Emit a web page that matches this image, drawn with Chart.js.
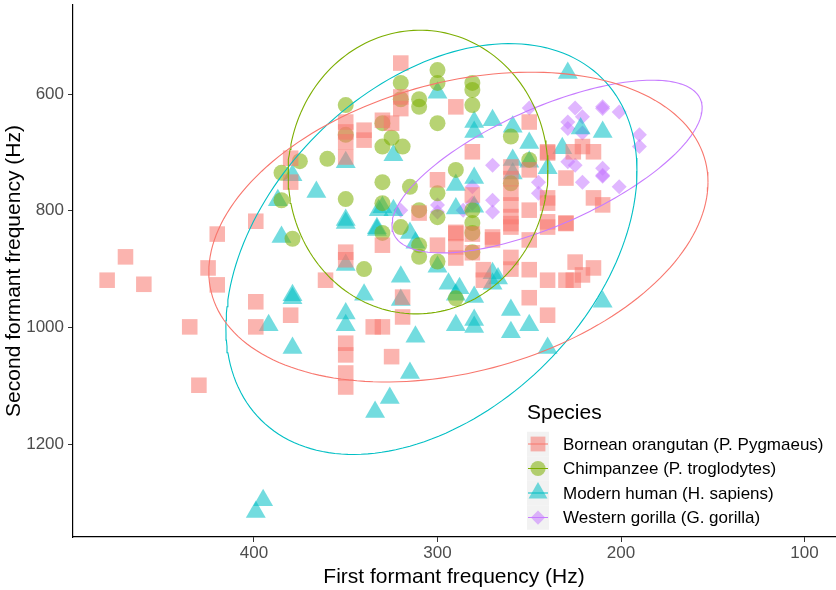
<!DOCTYPE html>
<html>
<head>
<meta charset="utf-8">
<script src="https://cdn.jsdelivr.net/npm/chart.js@4.4.1/dist/chart.umd.min.js"></script>
<style>
html, body { margin: 0; padding: 0; background: #fff; }
</style>
</head>
<body>
<canvas id="myChart" width="836" height="590"></canvas>
<script>
// formant data, [F1, F2] in Hz
var orangutan = [
    [480, 919], [470, 879], [460, 926], [435, 999], [430, 1099], [425, 898], [420, 840], [420, 927],
    [399, 818], [399, 956], [399, 999], [380, 979], [361, 919], [380, 710], [380, 751],
    [350, 648], [350, 665], [350, 682], [350, 708], [350, 871], [350, 884], [350, 1027], [350, 1047], [350, 1078], [350, 1102],
    [340, 662], [340, 679], [330, 645], [325, 650], [320, 547], [320, 605], [320, 625], [290, 622], [250, 648],
    [281, 699], [300, 747], [281, 773], [281, 840],
    [260, 725], [260, 745], [260, 770], [260, 790], [260, 810], [260, 828], [250, 730], [250, 799], [240, 701], [240, 787], [240, 828],
    [310, 804], [290, 837], [270, 845], [226, 699], [221, 690], [215, 699], [240, 699], [230, 744], [230, 821], [240, 778], [215, 778], [210, 790],
    [225, 888], [215, 898], [221, 910], [240, 919], [230, 919], [226, 919], [240, 979], [240, 819], [230, 822],
    [330, 859], [319, 948], [319, 982], [335, 999], [330, 999], [325, 1050], [300, 859], [290, 839], [290, 862], [290, 881],
    [281, 872], [270, 850], [275, 901], [275, 919], [260, 822], [260, 880], [260, 900], [250, 850], [250, 901], [250, 949]
];
var chimpanzee = [
    [375, 715], [360, 711], [385, 735], [385, 782], [379, 848],
    [300, 559], [300, 581], [320, 581], [320, 609], [310, 609], [310, 622], [281, 581], [281, 593], [281, 619], [300, 650],
    [350, 619], [350, 670], [330, 650], [325, 675], [330, 690], [319, 690],
    [260, 673], [250, 713], [290, 730], [260, 753], [330, 751], [315, 759], [350, 780], [330, 787], [300, 770], [310, 799], [300, 811],
    [281, 799], [281, 821], [320, 828], [330, 838], [310, 859], [310, 879], [300, 887], [340, 900], [281, 838], [281, 871], [290, 950]
];
var human = [
    [379, 739], [387, 782], [366, 768], [385, 845], [379, 945], [379, 950], [392, 996], [379, 1035],
    [300, 598], [350, 717], [324, 705], [350, 816], [332, 799], [330, 794], [324, 799], [333, 833], [315, 838], [290, 756], [290, 796],
    [280, 648], [270, 645], [280, 665], [259, 656], [250, 684], [259, 713], [259, 736], [250, 716], [240, 727], [280, 744], [280, 793],
    [229, 564], [222, 659], [210, 665], [232, 693],
    [350, 821], [333, 830], [312, 855], [350, 893], [300, 896], [320, 913], [340, 944], [320, 953], [294, 925], [288, 933], [290, 944], [280, 948],
    [270, 907], [267, 916], [270, 925], [350, 976], [350, 996], [290, 996], [280, 987], [280, 999], [260, 970], [260, 1008], [250, 996],
    [312, 1016], [315, 1078], [326, 1121], [334, 1145], [240, 1035], [210, 956], [395, 1296], [399, 1316]
];
var gorilla = [
    [250, 624], [270, 722], [245, 751], [245, 770], [281, 759], [270, 782], [281, 787], [270, 802], [286, 799], [300, 790], [300, 802], [320, 799],
    [225, 624], [210, 622], [210, 625], [201, 631], [221, 639], [229, 648], [229, 659], [221, 667], [190, 670], [190, 690],
    [229, 716], [225, 722], [210, 727], [210, 739], [210, 741], [221, 751], [201, 759]
];

// 95% ellipses: centre x, centre y, then two conjugate half-diameters (x, y)
var orangutanEllipse = [288.6, 828, -136, -77, 0, 254];
var chimpanzeeEllipse = [310.6, 733.7, -70.8, -3.4, 0, 243];
var humanEllipse = [303.3, 865.6, -112, -133.7, 0, 325.6];
var gorillaEllipse = [240.3, 724.3, -84.5, -100.3, 0, 108.8];

var species = ['Bornean orangutan (P. Pygmaeus)', 'Chimpanzee (P. troglodytes)', 'Modern human (H. sapiens)', 'Western gorilla (G. gorilla)'];
var xTicks = [100, 200, 300, 400];
var yTicks = [600, 800, 1000, 1200];

var lineColors = ['#F8766D', '#7CAE00', '#00BFC4', '#C77CFF'];
var fillColors = ['rgba(248,118,109,0.55)', 'rgba(124,174,0,0.55)', 'rgba(0,191,196,0.55)', 'rgba(199,124,255,0.55)'];
var shapes = ['rect', 'circle', 'triangle', 'rectRot'];
var sizes = [11, 8, 11.5, 7.5];

Chart.defaults.font.family = '"Liberation Sans", Arial, sans-serif';

var ctx = document.getElementById('myChart').getContext('2d');

function toPoints(list) {
    return list.map(function (p) { return { x: p[0], y: p[1] }; });
}

function ellipsePath(e) {
    let pts = [];
    for (let i = 0; i <= 180; i++) {
        let t = i / 180 * 2 * Math.PI;
        pts.push({
            x: e[0] + e[2] * Math.cos(t) + e[4] * Math.sin(t),
            y: e[1] + e[3] * Math.cos(t) + e[5] * Math.sin(t)
        });
    }
    return pts;
}

// no extra room for end labels, the plot panel fills the canvas
function noPadding(scale) {
    scale.paddingLeft = 0;
    scale.paddingRight = 0;
    scale.paddingTop = 0;
    scale.paddingBottom = 0;
}

var groups = [orangutan, chimpanzee, human, gorilla];
var ellipses = [orangutanEllipse, chimpanzeeEllipse, humanEllipse, gorillaEllipse];

var datasets = [];
// ellipses first so they sit on top of the points
ellipses.forEach(function (e, i) {
    datasets.push({
        label: species[i] + ' ellipse',
        data: ellipsePath(e),
        showLine: true,
        borderColor: lineColors[i],
        borderWidth: 1.1,
        pointRadius: 0,
        fill: false,
        tension: 0
    });
});
groups.forEach(function (g, i) {
    datasets.push({
        label: species[i],
        data: toPoints(g),
        pointStyle: shapes[i],
        pointRadius: sizes[i],
        pointHoverRadius: sizes[i],
        backgroundColor: fillColors[i],
        borderWidth: 0,
        showLine: false
    });
});

var speciesLegend = {
    id: 'speciesLegend',
    afterDraw: function (chart) {
        let c = chart.ctx;
        c.save();
        c.textBaseline = 'middle';
        c.textAlign = 'left';
        c.fillStyle = '#000';
        c.font = '21px "Liberation Sans", Arial, sans-serif';
        c.fillText('Species', 527, 413);
        for (let i = 0; i < species.length; i++) {
            let cy = 444 + i * 24.5;
            c.fillStyle = '#F2F2F2';
            c.fillRect(527, cy - 12.25, 22, 24.5);
            c.fillStyle = fillColors[i];
            Chart.helpers.drawPoint(c, { pointStyle: shapes[i], radius: sizes[i] * 0.95, rotation: 0, borderWidth: 0 }, 538, cy);
            c.strokeStyle = lineColors[i];
            c.lineWidth = 1;
            c.beginPath();
            c.moveTo(528, cy);
            c.lineTo(548, cy);
            c.stroke();
            c.fillStyle = '#000';
            c.font = '17px "Liberation Sans", Arial, sans-serif';
            c.fillText(species[i], 563, cy + 1);
        }
        c.restore();
    }
};

let myChart = new Chart(ctx, {
    type: 'scatter',
    data: { datasets: datasets },
    plugins: [speciesLegend],
    options: {
        responsive: false,
        animation: false,
        devicePixelRatio: 1,
        layout: { autoPadding: false, padding: { top: 5, right: 1, left: 0, bottom: 0 } },
        plugins: {
            legend: { display: false },
            tooltip: { enabled: false }
        },
        scales: {
            x: {
                type: 'linear',
                reverse: true,
                min: 83.4,
                max: 498.6,
                afterBuildTicks: function (scale) {
                    scale.ticks = xTicks.map(function (v) { return { value: v }; });
                },
                afterFit: function (scale) {
                    scale.height = 53;
                    noPadding(scale);
                },
                grid: { drawOnChartArea: false, drawTicks: true, tickLength: 5, color: '#333333', lineWidth: 1 },
                border: { color: '#000', width: 1.2 },
                ticks: {
                    color: '#4D4D4D', font: { size: 17 }, padding: 1, maxRotation: 0,
                    callback: function (v) { return String(v); }
                },
                title: {
                    display: true,
                    text: 'First formant frequency (Hz)',
                    color: '#000',
                    font: { size: 21 },
                    padding: { top: 0, bottom: 0 }
                }
            },
            y: {
                type: 'linear',
                reverse: true,
                min: 447.5,
                max: 1359,
                afterBuildTicks: function (scale) {
                    scale.ticks = yTicks.map(function (v) { return { value: v }; });
                },
                afterFit: function (scale) {
                    scale.width = 73;
                    noPadding(scale);
                },
                grid: { drawOnChartArea: false, drawTicks: true, tickLength: 5, color: '#333333', lineWidth: 1 },
                border: { color: '#000', width: 1.2 },
                ticks: {
                    color: '#4D4D4D', font: { size: 17 }, padding: 4,
                    callback: function (v) { return String(v); }
                },
                title: {
                    display: true,
                    text: 'Second formant frequency (Hz)',
                    color: '#000',
                    font: { size: 21 },
                    padding: { top: 2, bottom: 0 }
                }
            }
        }
    }
});
</script>
</body>
</html>
